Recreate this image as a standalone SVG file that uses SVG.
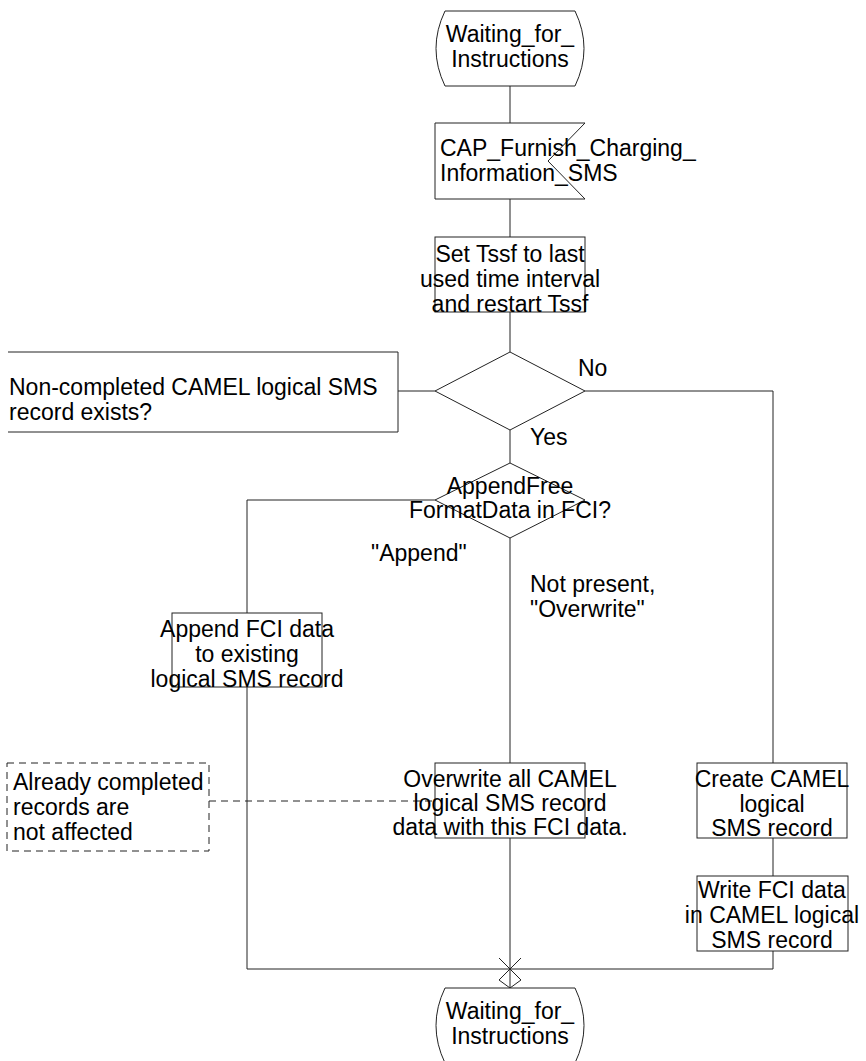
<svg xmlns="http://www.w3.org/2000/svg" width="866" height="1061" viewBox="0 0 866 1061">
<style>
.s{fill:#fff;stroke:#222;stroke-width:1}
.l{fill:none;stroke:#222;stroke-width:1}
.d{fill:none;stroke:#222;stroke-width:1;stroke-dasharray:7,5}
text{font-family:"Liberation Sans",Arial,sans-serif;font-size:23px;fill:#000}
.c{text-anchor:middle}
</style>
<rect width="866" height="1061" fill="#fff"/>
<g id="connectors">
<path class="l" d="M510,86V123M510,199V237M510,312V352M398,391H435M585,391H773V763M510,430V463M435,500H247V613M247,687V969M510,538V763M510,838V988M773,838V876M773,951V969H247"/>
<path class="d" d="M209,801H435"/>
<path class="l" d="M499,958L521,980M521,958L499,980M499,980L510,988L521,980"/>
</g>
<g id="start">
<path class="s" d="M445,11H575Q593,48.5 575,86H445Q427,48.5 445,11Z"/>
<text class="c" x="510" y="42">Waiting_for_</text>
<text class="c" x="510" y="67">Instructions</text>
</g>
<g id="input">
<path class="s" d="M435,123H585L548,161L585,199H435Z"/>
<text x="440" y="156">CAP_Furnish_Charging_</text>
<text x="440" y="181">Information_SMS</text>
</g>
<g id="settssf">
<rect class="s" x="435" y="237" width="150" height="75"/>
<text class="c" x="510" y="262">Set Tssf to last</text>
<text class="c" x="510" y="287">used time interval</text>
<text class="c" x="510" y="312">and restart Tssf</text>
</g>
<g id="decision1">
<path class="s" d="M510,352L585,391L510,430L435,391Z"/>
<path class="l" d="M8,352H398V432H8"/>
<text x="9" y="395">Non-completed CAMEL logical SMS</text>
<text x="9" y="420">record exists?</text>
<text x="578" y="376">No</text>
<text x="530" y="445">Yes</text>
</g>
<g id="decision2">
<path class="s" d="M510,463L585,500L510,538L435,500Z"/>
<text class="c" x="510" y="494">AppendFree</text>
<text class="c" x="510" y="518">FormatData in FCI?</text>
<text x="371" y="561">"Append"</text>
<text x="530" y="592">Not present,</text>
<text x="530" y="617">"Overwrite"</text>
</g>
<g id="append">
<rect class="s" x="172" y="613" width="150" height="74"/>
<text class="c" x="247" y="637">Append FCI data</text>
<text class="c" x="247" y="662">to existing</text>
<text class="c" x="247" y="687">logical SMS record</text>
</g>
<g id="comment">
<rect class="d" x="7" y="763" width="202" height="88"/>
<text x="13" y="790">Already completed</text>
<text x="13" y="815">records are</text>
<text x="13" y="840">not affected</text>
</g>
<g id="overwrite">
<rect class="s" x="435" y="763" width="150" height="75"/>
<text class="c" x="510" y="787">Overwrite all CAMEL</text>
<text class="c" x="510" y="811">logical SMS record</text>
<text class="c" x="510" y="835">data with this FCI data.</text>
</g>
<g id="create">
<rect class="s" x="697" y="763" width="150" height="75"/>
<text class="c" x="772" y="787">Create CAMEL</text>
<text class="c" x="772" y="812">logical</text>
<text class="c" x="772" y="836">SMS record</text>
</g>
<g id="write">
<rect class="s" x="697" y="876" width="151" height="75"/>
<text class="c" x="772" y="898">Write FCI data</text>
<text class="c" x="772" y="923">in CAMEL logical</text>
<text class="c" x="772" y="948">SMS record</text>
</g>
<g id="end">
<path class="s" d="M445,988H575Q593,1025.5 575,1063H445Q427,1025.5 445,988Z"/>
<text class="c" x="510" y="1019">Waiting_for_</text>
<text class="c" x="510" y="1044">Instructions</text>
</g>
</svg>
